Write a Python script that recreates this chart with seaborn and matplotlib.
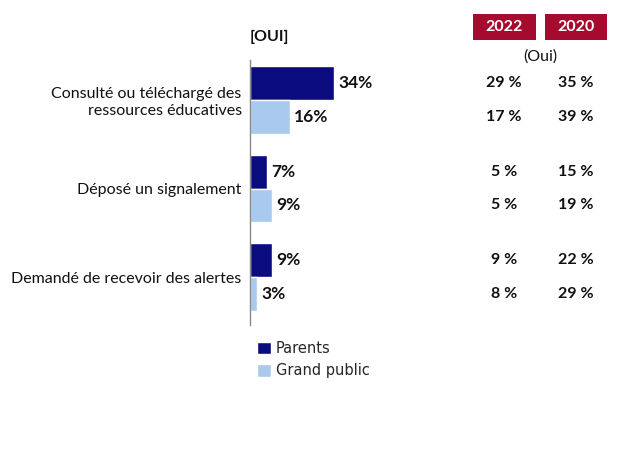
import numpy as np
import pandas as pd
import seaborn as sns
import matplotlib.pyplot as plt
from matplotlib.patches import Rectangle
from matplotlib.transforms import blended_transform_factory

# données
categories = ["Consulté ou téléchargé des\nressources éducatives",
              "Déposé un signalement",
              "Demandé de recevoir des alertes"]
groupes = ["Parents", "Grand public"]
parents = [34, 7, 9]
grand_public = [16, 9, 3]
annees = ["2022", "2020"]
oui_2022_parents = ["29 %", "5 %", "9 %"]
oui_2022_public = ["17 %", "5 %", "8 %"]
oui_2020_parents = ["35 %", "15 %", "22 %"]
oui_2020_public = ["39 %", "19 %", "29 %"]

df = pd.DataFrame({
    "cat": categories * 2,
    "groupe": [groupes[0]] * 3 + [groupes[1]] * 3,
    "val": parents + grand_public,
})

sns.set_style("white")
plt.rcParams["font.family"] = ["Lato", "DejaVu Sans"]

W, H = 624, 468
fig = plt.figure(figsize=(6.24, 4.68), dpi=100)
ax = fig.add_axes([250 / W, 1 - 325 / H, 160 / W, 265 / H])

sns.barplot(data=df, y="cat", x="val", hue="groupe", orient="h",
            palette=["#0b0b80", "#a9c9ef"], width=0.76, gap=0,
            saturation=1, legend=False, ax=ax)

ax.set_xlim(0, 160 / 2.48)
ax.set_ylim(2.54, -0.45)
ax.set_xlabel("")
ax.set_ylabel("")
ax.set_xticks([])
ax.tick_params(axis="y", length=0, pad=6, labelsize=11.5, labelcolor="#111111")
for s in ["top", "right", "bottom"]:
    ax.spines[s].set_visible(False)
ax.spines["left"].set_color("#888888")
ax.spines["left"].set_linewidth(1)

for cont in ax.containers:
    ax.bar_label(cont, labels=[f"{int(v)}%" for v in cont.datavalues],
                 padding=3, fontsize=12.5, fontweight="bold", color="#111111")

# tableau de droite
trans = blended_transform_factory(fig.transFigure, ax.transData)
cols = [(504 / W, oui_2022_parents, oui_2022_public),
        (576 / W, oui_2020_parents, oui_2020_public)]
for x, vp, vg in cols:
    for cont, vals in zip(ax.containers, [vp, vg]):
        for p, t in zip(cont.patches, vals):
            y = p.get_y() + p.get_height() / 2
            fig.text(x, y, t, transform=trans, ha="center", va="center",
                     fontsize=11.5, fontweight="bold", color="#111111")

for (x0, x1), a in zip([(473, 536), (545, 607)], annees):
    fig.add_artist(Rectangle((x0 / W, 1 - 40 / H), (x1 - x0) / W, 26 / H,
                             transform=fig.transFigure, facecolor="#a50b2e",
                             edgecolor="none"))
    fig.text((x0 + x1) / 2 / W, 1 - 27 / H, a, ha="center", va="center",
             color="white", fontsize=11.5, fontweight="bold")

fig.text(540 / W, 1 - 57 / H, "(Oui)", ha="center", va="center",
         fontsize=11.5, color="#111111")
fig.text(250 / W, 1 - 37 / H, "[OUI]", ha="left", va="center",
         fontsize=11.5, fontweight="bold", color="#111111")

ax.legend(ax.containers, groupes, loc="upper left",
          bbox_to_anchor=(244 / W, 1 - 328 / H), bbox_transform=fig.transFigure,
          frameon=False, handlelength=0.95, handleheight=0.95,
          handletextpad=0.35, labelspacing=0.5,
          prop={"family": "DejaVu Sans", "size": 10.5})

fig.savefig("out.png", dpi=100)
